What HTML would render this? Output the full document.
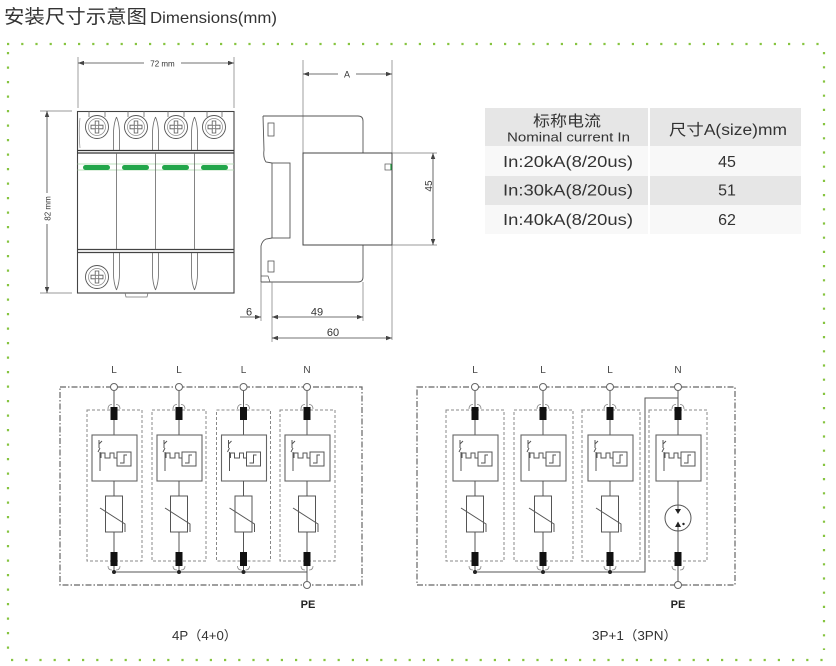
<!DOCTYPE html>
<html><head><meta charset="utf-8"><style>
html,body{margin:0;padding:0;background:#fff;}
svg{display:block;}
text{font-family:"Liberation Sans","Noto Sans CJK SC",sans-serif;}
</style></head><body>
<svg width="836" height="666" viewBox="0 0 836 666" xmlns="http://www.w3.org/2000/svg">
<defs>
<marker id="ar" viewBox="0 0 8 6" refX="8" refY="3" markerWidth="6" markerHeight="4.5" orient="auto-start-reverse" markerUnits="userSpaceOnUse"><path d="M0,0 L8,3 L0,6 Z" fill="#444"/></marker>
<g id="screw">
<circle r="11.5" fill="#fff" stroke="#555" stroke-width="0.9"/>
<circle r="8.5" fill="none" stroke="#888" stroke-width="0.7"/>
<path d="M-6,-1.8 H-1.8 V-6 H1.8 V-1.8 H6 V1.8 H1.8 V6 H-1.8 V1.8 H-6 Z" fill="none" stroke="#555" stroke-width="0.8"/>
<circle r="1.8" fill="none" stroke="#555" stroke-width="0.7"/>
</g>
<g id="thermal" fill="none" stroke="#555" stroke-width="1">
<rect x="-22" y="435" width="45" height="46" fill="#fff" stroke="#666" stroke-width="1.1"/>
<path d="M-15,440 V448 M-15,444 L-12,441"/>
<path d="M-16,452 L-14,448 M-14,452 V471"/>
<path d="M-13,458 V453 H-9 V458 H-4 V453 H0 V458 H3"/>
<rect x="3" y="452" width="14" height="14"/>
<path d="M6,463 H10 V455 H13"/>
</g>
<g id="common" fill="none" stroke="#555" stroke-width="1">
<path d="M0,390.5 V407"/>
<path d="M-6,409 Q-6,404.5 -2,404.5 M2,404.5 Q6,404.5 6,409" stroke="#888" stroke-width="0.8"/>
<rect x="-3.5" y="407" width="7" height="13" fill="#111" stroke="none"/>
<path d="M0,420 V435"/>
<use href="#thermal"/>
<rect x="-3.5" y="552" width="7" height="14" fill="#111" stroke="none"/>
<path d="M-6,566 Q-6,570 -2,570 M2,570 Q6,570 6,566" stroke="#888" stroke-width="0.8"/>
</g>
<g id="polev">
<use href="#common"/>
<g fill="none" stroke="#555" stroke-width="1">
<path d="M0,481 V496"/>
<rect x="-8.5" y="496" width="17" height="36" fill="#fff"/>
<path d="M-14,508 L11,524 V532"/>
<path d="M0,532 V552"/>
<path d="M0,566 V572"/>
</g>
</g>
<g id="poleg">
<use href="#common"/>
<g fill="none" stroke="#555" stroke-width="1">
<path d="M0,481 V509"/>
<circle cx="0" cy="518" r="13"/>
<path d="M0,522 V552"/>
<path d="M-3,509 H3 L0,514 Z M-3,527 H3 L0,521.5 Z" fill="#222" stroke="none"/>
<circle cx="5.5" cy="524" r="1.2" fill="#222" stroke="none"/>
</g>
</g>
</defs>

<!-- Title -->
<text x="4" y="23" font-size="19" fill="#333" font-family="'Noto Sans CJK SC',sans-serif" textLength="143" lengthAdjust="spacingAndGlyphs">安装尺寸示意图</text>
<text x="150" y="23" font-size="16" fill="#333" textLength="127" lengthAdjust="spacingAndGlyphs">Dimensions(mm)</text>

<!-- Dotted border -->
<g stroke="#86c440" stroke-width="2.2" fill="none">
<line x1="7" y1="44" x2="819" y2="44" stroke-dasharray="2.2 12"/>
<line x1="8" y1="52" x2="8" y2="650" stroke-dasharray="2.2 12.3"/>
<line x1="824" y1="52" x2="824" y2="650" stroke-dasharray="2.2 12"/>
<line x1="11" y1="660" x2="823" y2="660" stroke-dasharray="2.2 12"/>
</g>

<!-- Front view -->
<g fill="none" stroke="#555" stroke-width="0.9">
<path d="M78,57 V108 M234,57 V108" stroke="#777" stroke-width="0.7"/>
<path d="M78,63 H144 M181,63 H234" stroke="#444" marker-start="url(#ar)" marker-end="url(#ar)" stroke-width="0.8"/>
<path d="M40,111 H72 M40,293 H72" stroke="#777" stroke-width="0.7"/>
<path d="M47,111 V193 M47,224 V293" stroke="#444" marker-start="url(#ar)" marker-end="url(#ar)" stroke-width="0.8"/>
<rect x="77.5" y="111.5" width="156.5" height="181.5" fill="#fff" stroke="#444" stroke-width="1.1"/>
<path d="M77.5,150.5 H234 M77.5,153 H234" stroke="#333" stroke-width="1.3"/>
<path d="M77.5,249.5 H234 M77.5,252.5 H234" stroke="#444" stroke-width="1.2"/>
<path d="M77.5,164 H234 M77.5,170 H234" stroke="#a8d8a8" stroke-width="0.8"/>
<path d="M116.5,153 V249 M155.5,153 V249 M194.5,153 V249" stroke="#666" stroke-width="0.8"/>
<path d="M116.5,117 Q119.5,124 119.5,134 V150 M116.5,117 Q113.5,124 113.5,134 V150 M155.5,117 Q158.5,124 158.5,134 V150 M155.5,117 Q152.5,124 152.5,134 V150 M194.5,117 Q197.5,124 197.5,134 V150 M194.5,117 Q191.5,124 191.5,134 V150" stroke="#666" stroke-width="0.8"/>
<path d="M116.5,290 Q119.5,283 119.5,273 V253 M116.5,290 Q113.5,283 113.5,273 V253 M155.5,290 Q158.5,283 158.5,273 V253 M155.5,290 Q152.5,283 152.5,273 V253 M194.5,290 Q197.5,283 197.5,273 V253 M194.5,290 Q191.5,283 191.5,273 V253" stroke="#666" stroke-width="0.8"/>
<path d="M89,111 V117 M105,111 V117 M128,111 V117 M144,111 V117 M168,111 V117 M184,111 V117 M207,111 V117 M222,111 V117" stroke="#666" stroke-width="0.8"/>
<path d="M80,118 Q78.5,130 80,148" stroke="#888" stroke-width="0.7"/>
<path d="M125,293 L126,297 H147 L148,293" stroke="#777" stroke-width="0.8"/>
</g>
<g fill="#22a64a">
<rect x="83" y="165" width="27" height="5" rx="2.5"/>
<rect x="122" y="165" width="27" height="5" rx="2.5"/>
<rect x="162" y="165" width="27" height="5" rx="2.5"/>
<rect x="201" y="165" width="27" height="5" rx="2.5"/>
</g>
<use href="#screw" x="97" y="127"/>
<use href="#screw" x="136" y="127"/>
<use href="#screw" x="176" y="127"/>
<use href="#screw" x="214" y="127"/>
<use href="#screw" x="97" y="277"/>
<text x="162.5" y="66.5" font-size="8" fill="#333" text-anchor="middle">72 mm</text>
<text transform="translate(50.5,208.5) rotate(-90)" font-size="8" fill="#333" text-anchor="middle">82 mm</text>

<!-- Side view -->
<g fill="none" stroke="#555" stroke-width="0.9">
<path d="M303,60 V153 M392,60 V340" stroke="#777" stroke-width="0.7"/>
<path d="M303,74 H338 M356,74 H392" stroke="#444" marker-start="url(#ar)" marker-end="url(#ar)" stroke-width="0.8"/>
<path d="M263,116 H358 Q363,116 363,121 V153"/>
<path d="M363,245 V277 Q363,282 358,282 H261"/>
<path d="M263,116 L264,150 Q263,158 266,162 L272,163"/>
<rect x="272" y="163" width="18" height="75"/>
<path d="M272,238 L266,239 Q262,241 261,246 V282"/>
<path d="M261,276 H268 L270,282" stroke-width="0.7"/>
<rect x="268" y="123" width="6" height="13" stroke-width="0.8"/>
<rect x="268" y="261" width="6" height="11" stroke-width="0.8"/>
<rect x="303" y="153" width="89" height="92" fill="#fff" stroke="#444" stroke-width="1"/>
<rect x="385" y="164" width="6" height="6" stroke-width="0.7"/>
<path d="M391,164 V170" stroke="#1a9a3a" stroke-width="1.2"/>
<path d="M392,153 H437 M392,245 H437" stroke="#777" stroke-width="0.7"/>
<path d="M433,153 V245" stroke="#444" marker-start="url(#ar)" marker-end="url(#ar)" stroke-width="0.8"/>
<path d="M261,282 V321 M272,282 V342 M363,282 V321" stroke="#777" stroke-width="0.7"/>
<path d="M240,317 H261" stroke="#444" marker-end="url(#ar)" stroke-width="0.8"/>
<path d="M272,317 H363" stroke="#444" marker-start="url(#ar)" marker-end="url(#ar)" stroke-width="0.8"/>
<path d="M272,338 H392" stroke="#444" marker-start="url(#ar)" marker-end="url(#ar)" stroke-width="0.8"/>
</g>
<text x="347" y="77.5" font-size="9" fill="#333" text-anchor="middle">A</text>
<text transform="translate(432,186) rotate(-90)" font-size="10" fill="#333" text-anchor="middle">45</text>
<text x="249" y="315.5" font-size="11" fill="#333" text-anchor="middle">6</text>
<text x="317" y="315.5" font-size="11" fill="#333" text-anchor="middle">49</text>
<text x="333" y="336" font-size="11" fill="#333" text-anchor="middle">60</text>

<!-- Table -->
<rect x="485" y="108" width="316" height="38" fill="#e6e6e6"/>
<rect x="485" y="146" width="316" height="30" fill="#f8f8f8"/>
<rect x="485" y="176" width="316" height="29" fill="#e6e6e6"/>
<rect x="485" y="205" width="316" height="29" fill="#f8f8f8"/>
<rect x="648" y="108" width="2" height="126" fill="#fff"/>
<text x="567" y="126" font-size="15" fill="#333" text-anchor="middle" font-family="'Noto Sans CJK SC',sans-serif" textLength="68" lengthAdjust="spacingAndGlyphs">标称电流</text>
<text x="507" y="141.5" font-size="13" fill="#333" textLength="123" lengthAdjust="spacingAndGlyphs">Nominal current In</text>
<text x="669" y="135" font-size="15.5" fill="#333" textLength="118" lengthAdjust="spacingAndGlyphs">尺寸A(size)mm</text>
<text x="503" y="167" font-size="16" fill="#333" textLength="130" lengthAdjust="spacingAndGlyphs">In:20kA(8/20us)</text>
<text x="503" y="195.5" font-size="16" fill="#333" textLength="130" lengthAdjust="spacingAndGlyphs">In:30kA(8/20us)</text>
<text x="503" y="225" font-size="16" fill="#333" textLength="130" lengthAdjust="spacingAndGlyphs">In:40kA(8/20us)</text>
<text x="727" y="167" font-size="16" fill="#333" text-anchor="middle">45</text>
<text x="727" y="195.5" font-size="16" fill="#333" text-anchor="middle">51</text>
<text x="727" y="225" font-size="16" fill="#333" text-anchor="middle">62</text>

<!-- Circuit 4P -->
<g fill="none">
<rect x="60" y="387" width="302" height="198" stroke="#666" stroke-width="1.2" stroke-dasharray="6 2 1.5 2"/>
<g stroke="#888" stroke-width="1" stroke-dasharray="3 2">
<rect x="87" y="410" width="55" height="151"/>
<rect x="152" y="410" width="54" height="151"/>
<rect x="216.5" y="410" width="54" height="151"/>
<rect x="280" y="410" width="55" height="151"/>
</g>
</g>
<use href="#polev" x="114" y="0"/>
<use href="#polev" x="179" y="0"/>
<use href="#polev" x="243.5" y="0"/>
<use href="#polev" x="307" y="0"/>
<g fill="none" stroke="#555" stroke-width="1">
<path d="M114,572 H307 V581.5"/>
</g>
<g fill="#222"><circle cx="114" cy="572" r="2"/><circle cx="179" cy="572" r="2"/><circle cx="243.5" cy="572" r="2"/></g>
<g fill="#fff" stroke="#666" stroke-width="1">
<circle cx="114" cy="387" r="3.5"/><circle cx="179" cy="387" r="3.5"/><circle cx="243.5" cy="387" r="3.5"/><circle cx="307" cy="387" r="3.5"/><circle cx="307" cy="585" r="3.5"/>
</g>
<g font-size="10" fill="#444" text-anchor="middle">
<text x="114" y="373">L</text><text x="179" y="373">L</text><text x="243.5" y="373">L</text><text x="307" y="373">N</text>
</g>
<text x="308" y="608" font-size="11" font-weight="bold" fill="#222" text-anchor="middle">PE</text>

<!-- Circuit 3P+1 -->
<g fill="none">
<rect x="417" y="387" width="318" height="198" stroke="#666" stroke-width="1.2" stroke-dasharray="6 2 1.5 2"/>
<g stroke="#888" stroke-width="1" stroke-dasharray="3 2">
<rect x="446" y="410" width="58" height="151"/>
<rect x="514" y="410" width="59" height="151"/>
<rect x="582" y="410" width="58" height="151"/>
<rect x="649" y="410" width="58" height="151"/>
</g>
</g>
<use href="#polev" x="475" y="0"/>
<use href="#polev" x="543" y="0"/>
<use href="#polev" x="610" y="0"/>
<use href="#poleg" x="678" y="0"/>
<g fill="none" stroke="#555" stroke-width="1">
<path d="M475,572 H645 V398 H678"/>
<path d="M678,566 V581.5"/>
</g>
<g fill="#222"><circle cx="475" cy="572" r="2"/><circle cx="543" cy="572" r="2"/><circle cx="610" cy="572" r="2"/></g>
<g fill="#fff" stroke="#666" stroke-width="1">
<circle cx="475" cy="387" r="3.5"/><circle cx="543" cy="387" r="3.5"/><circle cx="610" cy="387" r="3.5"/><circle cx="678" cy="387" r="3.5"/><circle cx="678" cy="585" r="3.5"/>
</g>
<g font-size="10" fill="#444" text-anchor="middle">
<text x="475" y="373">L</text><text x="543" y="373">L</text><text x="610" y="373">L</text><text x="678" y="373">N</text>
</g>
<text x="678" y="608" font-size="11" font-weight="bold" fill="#222" text-anchor="middle">PE</text>

<!-- Captions -->
<text x="172" y="640" font-size="13" fill="#333" textLength="65" lengthAdjust="spacingAndGlyphs">4P（4+0）</text>
<text x="592" y="640" font-size="13" fill="#333" textLength="85" lengthAdjust="spacingAndGlyphs">3P+1（3PN）</text>
</svg>
</body></html>
